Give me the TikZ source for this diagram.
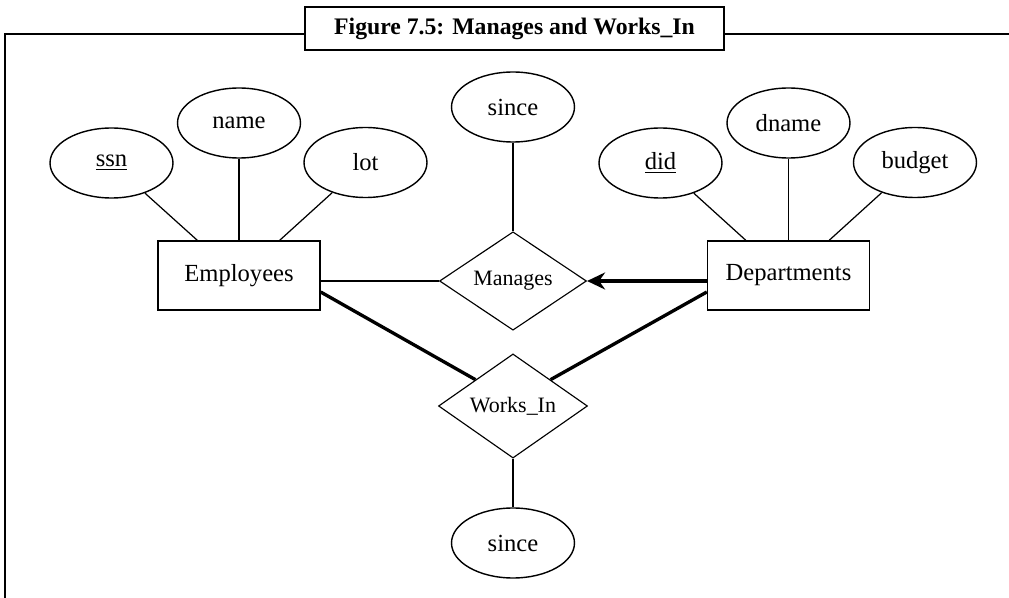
\documentclass[tikz,border=0pt]{standalone}
\usepackage{fontspec}
\setmainfont{Liberation Serif}
\usetikzlibrary{shapes.geometric,arrows.meta}

\begin{document}
\begin{tikzpicture}[x=0.02cm,y=-0.02cm,
    attr/.style={draw,ellipse,line width=0.8pt,minimum width=2.46cm,minimum height=1.4cm,inner sep=0pt,font=\fontsize{14}{16}\selectfont},
    entity/.style={draw,rectangle,line width=0.8pt,minimum width=3.24cm,minimum height=1.38cm,inner sep=0pt,font=\fontsize{14}{16}\selectfont},
    rel/.style={draw,diamond,line width=0.65pt,minimum width=2.94cm,minimum height=1.56cm,inner sep=0pt,font=\fontsize{12.5}{14}\selectfont},
    link/.style={line width=0.7pt},
    total/.style={line width=1.9pt},
    keyarrow/.style={line width=1.9pt,-{Stealth[length=0.36cm,width=0.34cm]}},
    frame/.style={line width=1.2pt},
    titlebox/.style={draw,fill=white,line width=1.2pt,minimum width=8.38cm,minimum height=0.86cm,inner sep=0pt,font=\fontsize{13.5}{15}\selectfont\bfseries}]
    \useasboundingbox (0,0) rectangle (1009,598);

    % outer frame and caption
    \draw [frame] (5,600) -- (5,34) -- (1012,34);
    \node [titlebox] (title) at (514.5,28.5) {Figure 7.5: Manages and Works\_In};

    % Employees and its attributes
    \node [entity] (emp) at (239,275.5) {Employees};
    \node [attr] (ssn) at (111.5,163) {\underline{ssn}};
    \node [attr] (name) at (239,123) {name};
    \node [attr] (lot) at (365.5,162.5) {lot};
    \draw [link] (ssn) -- ([xshift=0.8cm]emp.north west);
    \draw [link] (name) -- (emp);
    \draw [link] (lot) -- ([xshift=-0.82cm]emp.north east);

    % Departments and its attributes
    \node [entity] (dept) at (788.5,275.5) {Departments};
    \node [attr] (did) at (660.5,163) {\underline{did}};
    \node [attr] (dname) at (788.5,123) {dname};
    \node [attr] (budget) at (915,162.5) {budget};
    \draw [link] (did) -- ([xshift=0.78cm]dept.north west);
    \draw [link] (dname) -- (dept);
    \draw [link] (budget) -- ([xshift=-0.82cm]dept.north east);

    % Manages
    \node [rel] (man) at (513,281) {Manages};
    \node [attr] (since1) at (513,107) {since};
    \draw [link] (since1) -- (man);
    \draw [link] (man.west) -- (man.west -| emp.east);
    \draw [keyarrow] (man.east -| dept.west) -- (man.east);

    % Works_In
    \node [rel,minimum width=2.98cm,minimum height=1.6cm] (wi) at (513,406) {Works\_In};
    \node [attr] (since2) at (513,543) {since};
    \draw [total] ([yshift=-0.33cm]emp.east) -- (wi.north west);
    \draw [total] ([yshift=-0.33cm]dept.west) -- (wi.north east);
    \draw [link] (wi) -- (since2);
\end{tikzpicture}
\end{document}
